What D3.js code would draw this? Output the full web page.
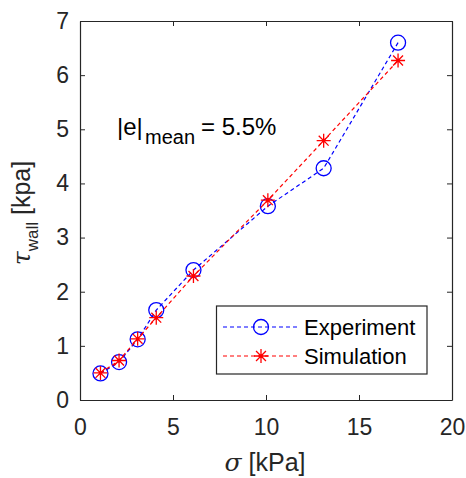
<!DOCTYPE html>
<html>
<head>
<meta charset="utf-8">
<script src="https://cdn.jsdelivr.net/npm/d3@7"></script>
<style>
  html, body { margin: 0; padding: 0; background: #fff; }
  svg { display: block; font-family: "Liberation Sans", Arial, Helvetica, sans-serif; }
</style>
</head>
<body>
<svg id="chart" width="466" height="478"></svg>
<script>
// ---- data ----
const sigma = [1.1, 2.1, 3.1, 4.1, 6.1, 10.1, 13.1, 17.1];
const experiment = [0.49, 0.70, 1.12, 1.66, 2.40, 3.58, 4.28, 6.60];
const simulation = [0.50, 0.73, 1.13, 1.52, 2.29, 3.69, 4.79, 6.27];
const xTicks = [0, 5, 10, 15, 20];
const yTicks = [0, 1, 2, 3, 4, 5, 6, 7];
const seriesNames = ["Experiment", "Simulation"];
const xLabel = "[kPa]";
const yLabel = "[kpa]";
const annotation = ["|e|", "mean", "= 5.5%"];

// ---- layout ----
const svg = d3.select("#chart");
const L = 80, R = 452, T = 21, B = 400;
const x = d3.scaleLinear().domain([0, 20]).range([L, R]);
const y = d3.scaleLinear().domain([0, 7]).range([B, T]);
const axisColor = "#262626";
const blue = "#0000ff", red = "#ff0000";
const fmt = d3.format("d");

// axes
function styleAxis(g) {
  g.selectAll("path.domain").attr("stroke", axisColor).attr("stroke-width", 1.2);
  g.selectAll(".tick line").attr("stroke", axisColor).attr("stroke-width", 1);
  g.selectAll(".tick text").attr("fill", axisColor).attr("font-size", 23)
    .attr("font-family", "Liberation Sans, Arial, sans-serif");
}
svg.append("g").attr("transform", `translate(0,${B})`)
  .call(d3.axisBottom(x).tickValues(xTicks).tickFormat(fmt).tickSizeInner(-5).tickSizeOuter(0).tickPadding(19))
  .call(styleAxis);
svg.append("g").attr("transform", `translate(0,${T})`)
  .call(d3.axisTop(x).tickValues(xTicks).tickSizeInner(-5).tickSizeOuter(0).tickFormat(""))
  .call(styleAxis);
svg.append("g").attr("transform", `translate(${L},0)`)
  .call(d3.axisLeft(y).tickValues(yTicks).tickFormat(fmt).tickSizeInner(-5).tickSizeOuter(0).tickPadding(11))
  .call(styleAxis);
svg.append("g").attr("transform", `translate(${R},0)`)
  .call(d3.axisRight(y).tickValues(yTicks).tickSizeInner(-5).tickSizeOuter(0).tickFormat(""))
  .call(styleAxis);

// lines
const line = d3.line().x(d => x(d[0])).y(d => y(d[1]));
const expData = sigma.map((s, i) => [s, experiment[i]]);
const simData = sigma.map((s, i) => [s, simulation[i]]);

function starPath(r) {
  const d = r * 0.7071;
  return `M${-r},0L${r},0M0,${-r}L0,${r}M${-d},${-d}L${d},${d}M${-d},${d}L${d},${-d}`;
}

svg.append("path").datum(expData).attr("d", line)
  .attr("fill", "none").attr("stroke", blue).attr("stroke-width", 1.2).attr("stroke-dasharray", "4,3");
svg.selectAll("circle.exp").data(expData).enter().append("circle").attr("class", "exp")
  .attr("cx", d => x(d[0])).attr("cy", d => y(d[1])).attr("r", 7.5)
  .attr("fill", "none").attr("stroke", blue).attr("stroke-width", 1.3);

svg.append("path").datum(simData).attr("d", line)
  .attr("fill", "none").attr("stroke", red).attr("stroke-width", 1.2).attr("stroke-dasharray", "4,3");
const stars = svg.selectAll("g.sim").data(simData).enter().append("g").attr("class", "sim")
  .attr("transform", d => `translate(${x(d[0])},${y(d[1])})`);
stars.append("path").attr("d", starPath(7)).attr("stroke", red).attr("stroke-width", 1.3).attr("fill", "none");
stars.append("circle").attr("r", 1.6).attr("fill", red);

// annotation
const ann = svg.append("text").attr("fill", "#000").attr("font-size", 24);
ann.append("tspan").attr("x", 117).attr("y", 135).text(annotation[0]);
ann.append("tspan").attr("x", 145).attr("y", 143.5).attr("font-size", 20).text(annotation[1]);
ann.append("tspan").attr("x", 201).attr("y", 135).text(annotation[2]);

// legend
const lg = svg.append("g");
lg.append("rect").attr("x", 216.5).attr("y", 306).attr("width", 210.5).attr("height", 68)
  .attr("fill", "#fff").attr("stroke", axisColor).attr("stroke-width", 1.2);
const legendRows = [
  { name: seriesNames[0], color: blue, y: 327, kind: "circle" },
  { name: seriesNames[1], color: red, y: 356, kind: "star" }
];
legendRows.forEach(r => {
  lg.append("line").attr("x1", 223).attr("x2", 297).attr("y1", r.y).attr("y2", r.y)
    .attr("stroke", r.color).attr("stroke-width", 1.2).attr("stroke-dasharray", "4,3");
  if (r.kind === "circle") {
    lg.append("circle").attr("cx", 261).attr("cy", r.y).attr("r", 7.5)
      .attr("fill", "none").attr("stroke", r.color).attr("stroke-width", 1.3);
  } else {
    const g = lg.append("g").attr("transform", `translate(261,${r.y})`);
    g.append("path").attr("d", starPath(7)).attr("stroke", r.color).attr("stroke-width", 1.3);
    g.append("circle").attr("r", 1.6).attr("fill", r.color);
  }
  lg.append("text").attr("x", 304).attr("y", r.y + 8).attr("font-size", 22).attr("fill", "#000").text(r.name);
});

// axis labels
const xl = svg.append("text").attr("x", 265).attr("y", 471).attr("text-anchor", "middle")
  .attr("font-size", 25).attr("fill", axisColor);
xl.append("tspan").attr("font-style", "italic").attr("font-family", "DejaVu Serif, serif").text("σ");
xl.append("tspan").text(" " + xLabel);

const yl = svg.append("text").attr("transform", "translate(30,213) rotate(-90)").attr("text-anchor", "middle")
  .attr("font-size", 25).attr("fill", axisColor);
yl.append("tspan").attr("font-style", "italic").attr("font-family", "DejaVu Serif, serif").text("τ");
yl.append("tspan").attr("font-size", 17).attr("dy", 8).text("wall");
yl.append("tspan").attr("dy", -8).text(" " + yLabel);
</script>
</body>
</html>
